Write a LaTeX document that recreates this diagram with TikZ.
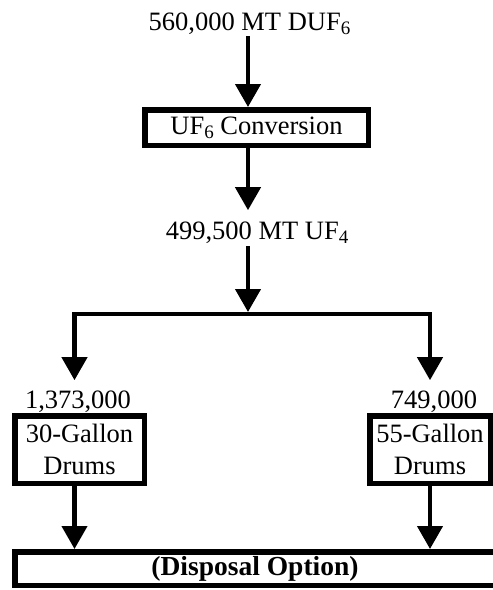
\documentclass[tikz,border=0pt]{standalone}
\usepackage{fontspec}
\setmainfont{Liberation Serif}
\usetikzlibrary{arrows.meta}
\newcommand\sbs[1]{\raisebox{-4pt}{\fontsize{19}{19}\selectfont #1}}
\begin{document}
\begin{tikzpicture}[x=1pt,y=-1pt,
  font=\fontsize{26.5}{32}\selectfont,
  lbl/.style={inner sep=0pt, anchor=base},
  boxn/.style={draw, line width=5.5pt, inner sep=0pt, align=center},
  arr/.style={line width=4.3pt, -{Triangle[width=25pt,length=23pt]}}]
\useasboundingbox (0,0) rectangle (493,590);
\clip (0,0) rectangle (493,590);
\coordinate (ax) at (248,0);
\coordinate (lx) at (74.5,0);
\coordinate (rx) at (430,0);
\coordinate (split) at (248,314);
% nodes
\node[lbl] (duf) at (249.5,30) {560,000 MT DUF\sbs{6}};
\node[boxn, minimum width=223.5pt, minimum height=35.5pt] (uf6) at (256.5,127.5) {UF\sbs{6} Conversion};
\node[lbl] (uf4) at (257,239) {499,500 MT UF\sbs{4}};
\node[lbl] (n30) at (78,408) {1,373,000};
\node[lbl] (n55) at (434,408) {749,000};
\node[boxn, minimum width=129.5pt, minimum height=67.5pt] (d30) at (79.5,449.5) {30-Gallon\\Drums};
\node[boxn, minimum width=120.5pt, minimum height=67.5pt] (d55) at (430,449.5) {55-Gallon\\Drums};
\node[boxn, minimum width=480.5pt, minimum height=33.5pt, font=\fontsize{27.5}{32}\selectfont\bfseries] (disp) at (255,568.5) {(Disposal Option)};
% connectors
\draw[arr, shorten <=2pt] (duf.south -| ax) -- (uf6.north -| ax);
\draw[arr, shorten >=11pt] (uf6.south -| ax) -- (uf4.north -| ax);
\draw[arr, shorten <=3pt, shorten >=2pt] (uf4.south -| ax) -- (split);
\draw[arr, shorten >=10pt] (split) -| (n30.north -| lx);
\draw[arr, shorten >=10pt] (split) -| (n55.north -| rx);
\draw[arr] (d30.south -| lx) -- (disp.north -| lx);
\draw[arr] (d55.south -| rx) -- (disp.north -| rx);
\end{tikzpicture}
\end{document}
